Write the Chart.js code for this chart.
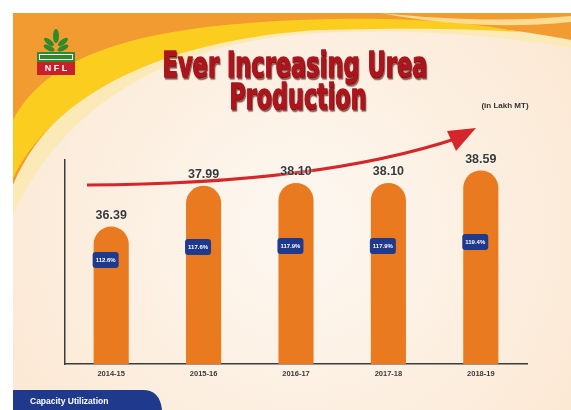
<!DOCTYPE html>
<html>
<head>
<meta charset="utf-8">
<script src="https://cdn.jsdelivr.net/npm/chart.js@4/dist/chart.umd.min.js"></script>
<style>
  html, body { margin: 0; padding: 0; background: #fff; }
  #wrap { position: absolute; left: 0; top: 0; width: 571px; height: 410px; }
</style>
</head>
<body>
<div id="wrap"><canvas id="urea-chart" width="571" height="410"></canvas></div>
<script>
// Chart data
const years = ['2014-15', '2015-16', '2016-17', '2017-18', '2018-19'];
const production = [36.39, 37.99, 38.10, 38.10, 38.59];   // in Lakh MT
const capacityUtil = [112.6, 117.6, 117.9, 117.9, 119.4];  // %

// Background, waves, logo, title
function drawBackground(ctx) {
    ctx.save();
    ctx.fillStyle = '#ffffff';
    ctx.fillRect(0, 0, 571, 410);

    const bg = ctx.createRadialGradient(300, 230, 40, 300, 230, 380);
    bg.addColorStop(0, '#fdf6ee');
    bg.addColorStop(1, '#fbe6cf');
    ctx.fillStyle = bg;
    ctx.fillRect(13, 13, 558, 397);

    // pale halo under the waves
    ctx.fillStyle = '#fbe9b8';
    ctx.beginPath();
    ctx.moveTo(13, 13);
    ctx.lineTo(571, 13);
    ctx.lineTo(571, 48);
    ctx.bezierCurveTo(500, 36, 420, 28, 320, 33);
    ctx.bezierCurveTo(190, 40, 70, 90, 13, 215);
    ctx.closePath();
    ctx.fill();

    // orange wave
    ctx.fillStyle = '#f29b30';
    ctx.beginPath();
    ctx.moveTo(13, 13);
    ctx.lineTo(571, 13);
    ctx.lineTo(571, 40);
    ctx.bezierCurveTo(500, 26, 420, 20, 320, 25);
    ctx.bezierCurveTo(190, 32, 60, 75, 13, 185);
    ctx.closePath();
    ctx.fill();

    // yellow band
    ctx.fillStyle = '#fbcd1f';
    ctx.beginPath();
    ctx.moveTo(13, 120);
    ctx.bezierCurveTo(50, 50, 150, 26, 300, 20);
    ctx.bezierCurveTo(400, 16, 470, 22, 520, 32);
    ctx.bezierCurveTo(460, 28, 400, 28, 320, 30);
    ctx.bezierCurveTo(180, 38, 60, 85, 13, 178);
    ctx.closePath();
    ctx.fill();

    // light stripe top right
    ctx.fillStyle = 'rgba(255,236,170,0.8)';
    ctx.beginPath();
    ctx.moveTo(380, 13);
    ctx.bezierCurveTo(450, 20, 510, 22, 571, 16);
    ctx.lineTo(571, 22);
    ctx.bezierCurveTo(510, 28, 450, 26, 380, 13);
    ctx.closePath();
    ctx.fill();

    // logo: leaves
    ctx.fillStyle = '#2f8a2c';
    ctx.beginPath();
    ctx.ellipse(56, 36, 3, 7, 0, 0, Math.PI * 2);
    ctx.fill();
    [[49, 42, -0.9], [63, 42, 0.9], [49, 48, -1.1], [63, 48, 1.1]].forEach(l => {
        ctx.beginPath();
        ctx.ellipse(l[0], l[1], 2.5, 6, l[2], 0, Math.PI * 2);
        ctx.fill();
    });
    ctx.fillStyle = '#2f8a2c';
    ctx.fillRect(37, 52, 38, 10);
    ctx.fillStyle = '#ffffff';
    ctx.fillRect(39, 54, 34, 6);
    ctx.fillStyle = '#2f8a2c';
    ctx.fillRect(40, 55, 32, 4);
    ctx.fillStyle = '#c8202a';
    ctx.fillRect(37, 62, 38, 13);
    ctx.fillStyle = '#ffffff';
    ctx.font = 'bold 9px "Liberation Sans"';
    ctx.textAlign = 'center';
    ctx.textBaseline = 'middle';
    ctx.fillText('N F L', 56, 69);

    // title (condensed heavy look)
    ctx.fillStyle = '#ad151d';
    ctx.strokeStyle = '#ad151d';
    ctx.lineWidth = 1.6;
    ctx.lineJoin = 'round';
    ctx.shadowColor = 'rgba(80,0,0,0.5)';
    ctx.shadowOffsetX = 1;
    ctx.shadowOffsetY = 1.5;
    ctx.shadowBlur = 1;
    ctx.textBaseline = 'alphabetic';
    stretchText(ctx, 'Ever Increasing Urea', 295, 77, 265, 'bold 35px "DejaVu Sans"');
    stretchText(ctx, 'Production', 298, 109, 137, 'bold 35px "DejaVu Sans"');
    ctx.shadowColor = 'transparent';

    ctx.fillStyle = '#333333';
    ctx.font = 'bold 8px "Liberation Sans"';
    ctx.textAlign = 'center';
    ctx.textBaseline = 'middle';
    ctx.fillText('(in Lakh MT)', 505, 106);
    ctx.restore();
}

function stretchText(ctx, text, cx, y, targetW, font) {
    ctx.font = font;
    const w = ctx.measureText(text).width;
    ctx.save();
    ctx.translate(cx, y);
    ctx.scale(targetW / w, 1);
    ctx.textAlign = 'center';
    ctx.strokeText(text, 0, 0);
    ctx.fillText(text, 0, 0);
    ctx.restore();
}

function drawArrow(ctx) {
    ctx.save();
    ctx.strokeStyle = '#d5262b';
    ctx.fillStyle = '#d5262b';
    ctx.lineWidth = 3;
    ctx.beginPath();
    ctx.moveTo(87, 185);
    ctx.quadraticCurveTo(320, 184, 458, 138);
    ctx.stroke();
    ctx.beginPath();
    ctx.moveTo(476, 128);
    ctx.lineTo(447, 131);
    ctx.lineTo(456, 151);
    ctx.closePath();
    ctx.fill();
    ctx.restore();
}

const decorPlugin = {
    id: 'decor',
    beforeDraw(chart) {
        drawBackground(chart.ctx);
    },
    beforeDatasetsDraw(chart) {
        drawArrow(chart.ctx);
    },
    afterDatasetsDraw(chart) {
        const ctx = chart.ctx;
        const meta = chart.getDatasetMeta(0);
        const base = chart.chartArea.bottom;
        ctx.save();
        meta.data.forEach((bar, i) => {
            const p = bar.getProps(['x', 'y', 'width'], true);
            const h = base - p.y;
            const left = p.x - p.width / 2;

            // production value above the bar
            ctx.font = 'bold 12.5px "Liberation Sans"';
            ctx.textAlign = 'center';
            ctx.textBaseline = 'middle';
            ctx.shadowColor = 'rgba(255,255,255,0.9)';
            ctx.shadowBlur = 3;
            ctx.fillStyle = '#3a3a3a';
            ctx.fillText(production[i].toFixed(2), p.x, p.y - 11);
            ctx.shadowBlur = 0;
            ctx.shadowColor = 'transparent';

            // capacity utilization badge
            const cy = base - (60 + 0.32 * h);
            const bx = left - 1, by = cy - 8, bw = 26, bh = 16, r = 3;
            ctx.fillStyle = '#1f3a8c';
            ctx.beginPath();
            ctx.moveTo(bx + r, by);
            ctx.lineTo(bx + bw - r, by);
            ctx.quadraticCurveTo(bx + bw, by, bx + bw, by + r);
            ctx.lineTo(bx + bw, by + bh - r);
            ctx.quadraticCurveTo(bx + bw, by + bh, bx + bw - r, by + bh);
            ctx.lineTo(bx + r, by + bh);
            ctx.quadraticCurveTo(bx, by + bh, bx, by + bh - r);
            ctx.lineTo(bx, by + r);
            ctx.quadraticCurveTo(bx, by, bx + r, by);
            ctx.closePath();
            ctx.fill();
            ctx.fillStyle = '#ffffff';
            ctx.font = 'bold 6px "Liberation Sans"';
            ctx.fillText(capacityUtil[i].toFixed(1) + '%', bx + bw / 2, cy + 0.5);
        });

        // legend tab at bottom left
        ctx.fillStyle = '#1f3a8c';
        ctx.beginPath();
        ctx.moveTo(13, 410);
        ctx.lineTo(13, 390);
        ctx.lineTo(143, 390);
        ctx.quadraticCurveTo(160, 390, 162, 410);
        ctx.closePath();
        ctx.fill();
        ctx.fillStyle = '#ffffff';
        ctx.font = 'bold 8.5px "Liberation Sans"';
        ctx.textAlign = 'left';
        ctx.textBaseline = 'middle';
        ctx.fillText('Capacity Utilization', 30, 402);
        ctx.restore();
    }
};

const ctx = document.getElementById('urea-chart').getContext('2d');
new Chart(ctx, {
    type: 'bar',
    data: {
        labels: years,
        datasets: [{
            label: 'Urea Production (Lakh MT)',
            data: production,
            backgroundColor: '#ea7a20',
            borderRadius: 20,
            borderSkipped: 'start',
            barPercentage: 0.38,
            categoryPercentage: 1
        }]
    },
    options: {
        responsive: false,
        animation: false,
        layout: { padding: { left: 65, right: 44, top: 160, bottom: 27 } },
        plugins: {
            legend: { display: false },
            tooltip: { enabled: false }
        },
        scales: {
            x: {
                grid: { display: false, drawTicks: false },
                border: { display: true, color: '#3c3c3c', width: 1.5 },
                ticks: {
                    color: '#3a3a3a',
                    padding: 5,
                    font: { family: 'Liberation Sans', size: 7.5, weight: 'bold' }
                }
            },
            y: {
                min: 31,
                max: 39,
                grid: { display: false, drawTicks: false },
                border: { display: true, color: '#3c3c3c', width: 1.5 },
                ticks: { display: false }
            }
        }
    },
    plugins: [decorPlugin]
});
</script>
</body>
</html>
